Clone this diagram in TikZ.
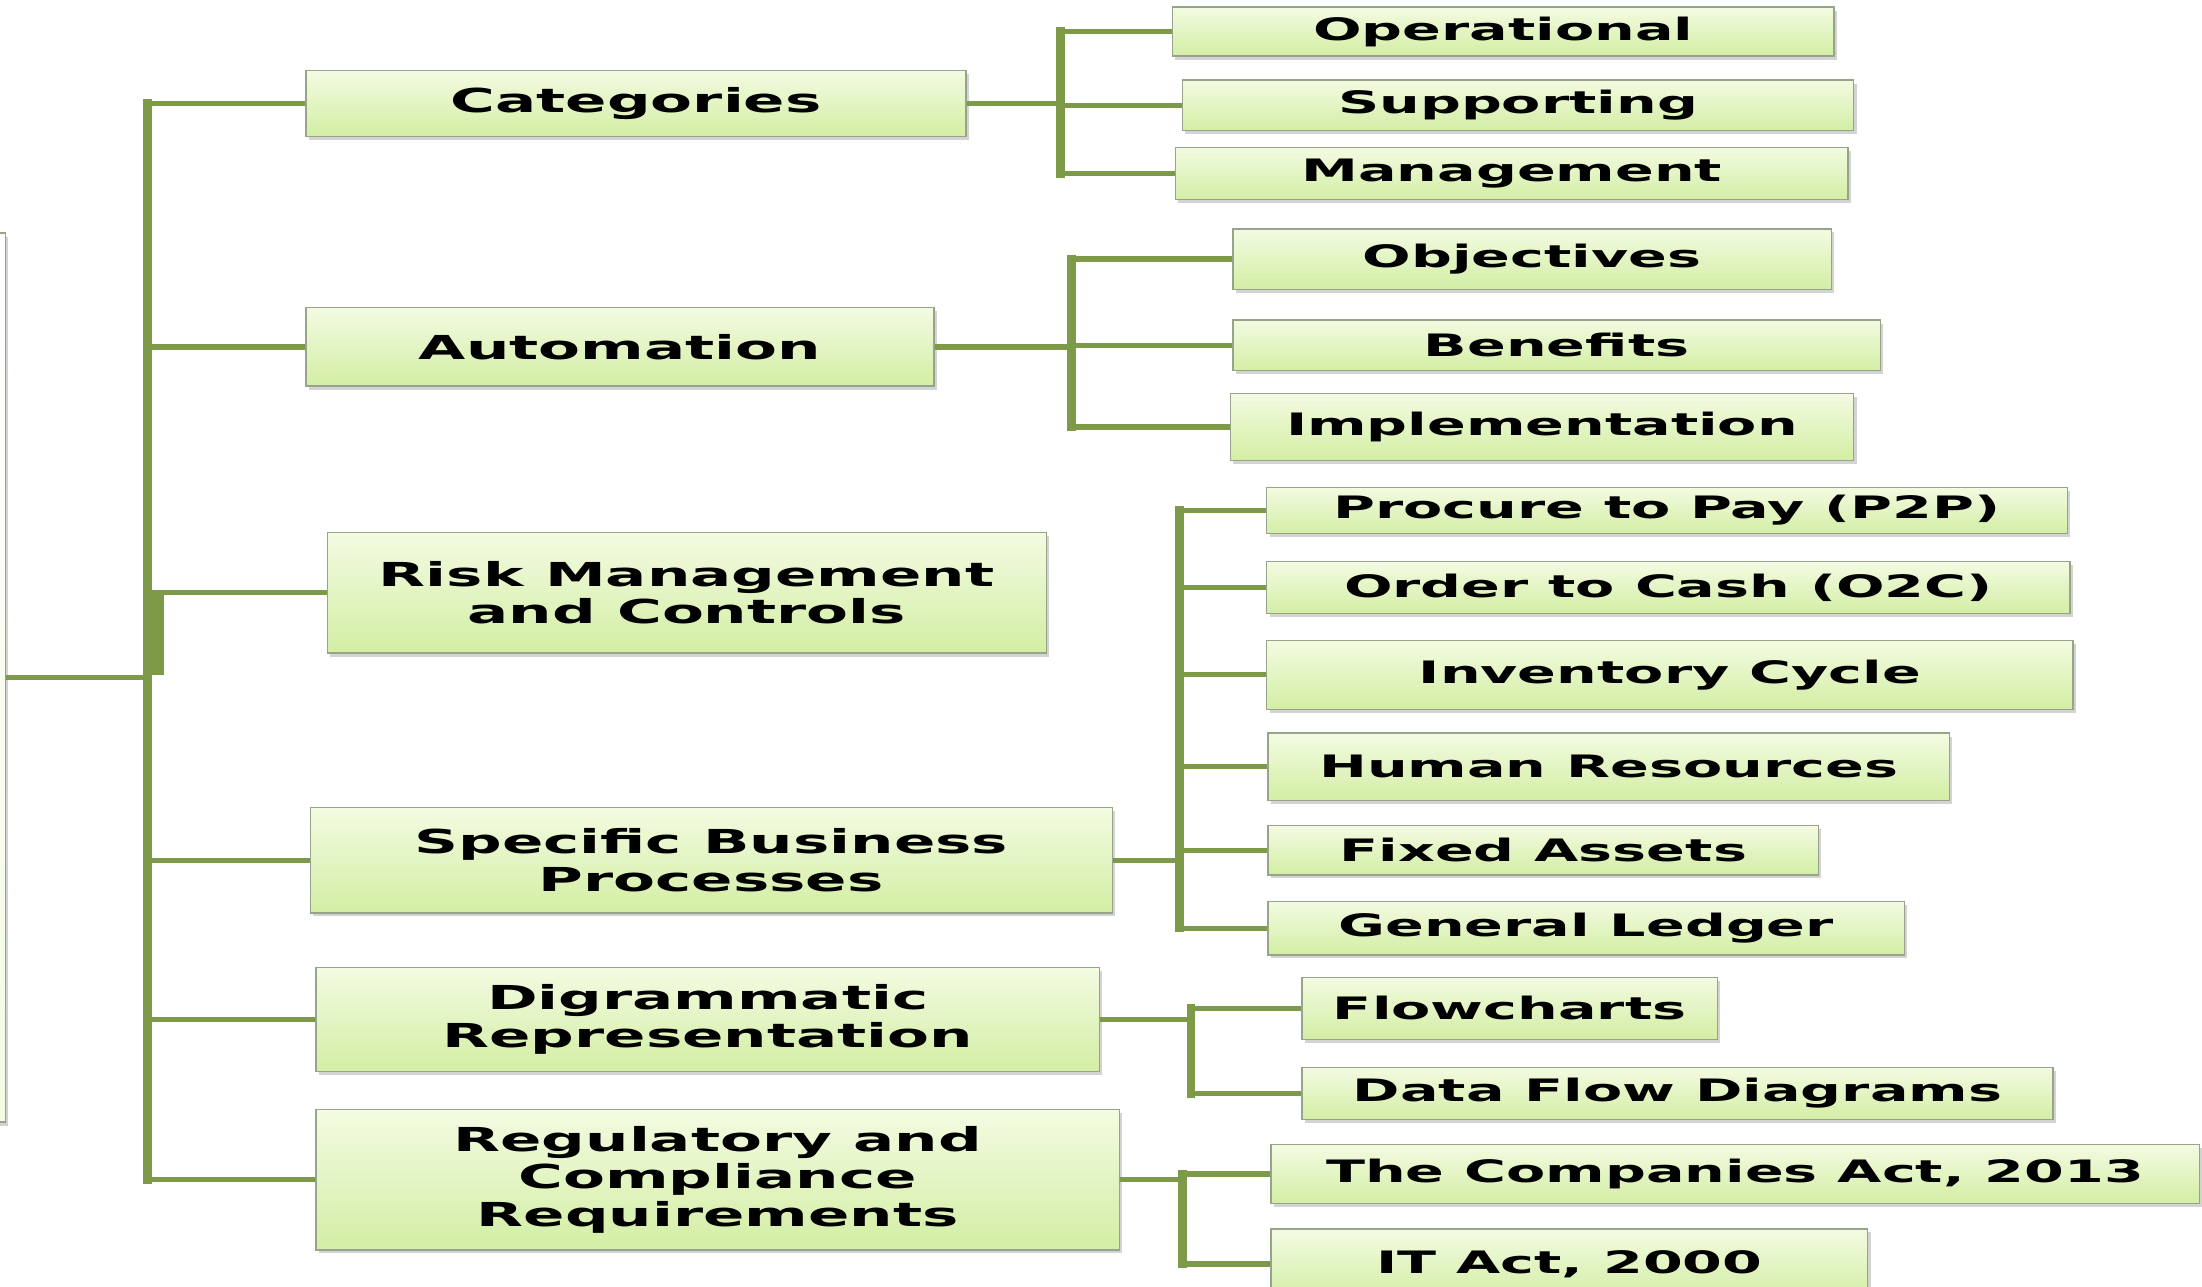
\documentclass[tikz,border=0pt]{standalone}
\usepackage{fontspec}
\usepackage{tikz}
\usetikzlibrary{positioning,shadows}
\newfontfamily\boxfont[FakeStretch=1.85]{DejaVu Sans Bold}
\definecolor{branchgreen}{HTML}{7D9A48}
\definecolor{leaftop}{HTML}{F3FBE2}
\definecolor{leafbot}{HTML}{D3EEA4}
\definecolor{rim}{HTML}{97A38A}

\tikzset{
        leaf/.style={draw=rim, line width=1pt, top color=leaftop, bottom color=leafbot,
                drop shadow={shadow xshift=2pt, shadow yshift=-2.5pt, opacity=0.35},
                inner sep=0pt, align=center, font=\boxfont\fontsize{22}{26.5}\selectfont},
        limb/.style={leaf, font=\boxfont\fontsize{23.5}{26.8}\selectfont},
        twig/.style={draw=branchgreen, line width=3.8pt},
        stem/.style={draw=branchgreen, line width=6pt, line cap=rect},
}

\begin{document}
\begin{tikzpicture}[x=1pt,y=1pt]
        \useasboundingbox (0,0) rectangle (1568,-916);
        \clip (0,0) rectangle (1568,-916);

        \node[leaf, minimum width=48pt, minimum height=633pt, top color=white, bottom color=leaftop] (root) at (-20,-482.5) {};

        \node[limb, minimum width=470pt, minimum height=47pt] (cat) at (453,-73.5) {Categories};
        \node[limb, minimum width=447pt, minimum height=56pt] (auto) at (441.5,-247) {Automation};
        \node[limb, minimum width=512pt, minimum height=86pt] (risk) at (489,-422) {Risk Management\\and Controls};
        \node[limb, minimum width=571pt, minimum height=75pt] (spec) at (506.5,-612.5) {Specific Business\\Processes};
        \node[limb, minimum width=558pt, minimum height=74pt] (dia) at (504,-726) {Digrammatic\\Representation};
        \node[limb, minimum width=572pt, minimum height=100pt] (reg) at (511,-840) {Regulatory and\\Compliance\\Requirements};

        \node[leaf, minimum width=471pt, minimum height=35pt] (op) at (1070.5,-22.5) {Operational};
        \node[leaf, minimum width=478pt, minimum height=36pt] (sup) at (1081,-75) {Supporting};
        \node[leaf, minimum width=479pt, minimum height=37pt] (mg) at (1076.5,-123.5) {Management};

        \node[leaf, minimum width=426pt, minimum height=43pt] (obj) at (1091,-184.5) {Objectives};
        \node[leaf, minimum width=461pt, minimum height=36pt] (ben) at (1108.5,-246) {Benefits};
        \node[leaf, minimum width=444pt, minimum height=48pt] (impl) at (1098,-304) {Implementation};

        \node[leaf, minimum width=570pt, minimum height=33pt] (p2p) at (1187,-363.5) {Procure to Pay (P2P)};
        \node[leaf, minimum width=572pt, minimum height=37pt] (o2c) at (1188,-418.5) {Order to Cash (O2C)};
        \node[leaf, minimum width=574pt, minimum height=49pt] (inv) at (1189,-480.5) {Inventory Cycle};
        \node[leaf, minimum width=485pt, minimum height=48pt] (hr) at (1145.5,-546) {Human Resources};
        \node[leaf, minimum width=392pt, minimum height=35pt] (fa) at (1099,-605.5) {Fixed Assets};
        \node[leaf, minimum width=453pt, minimum height=38pt] (gl) at (1129.5,-661) {General Ledger};

        \node[leaf, minimum width=296pt, minimum height=44pt] (fc) at (1075,-718) {Flowcharts};
        \node[leaf, minimum width=535pt, minimum height=37pt] (dfd) at (1194.5,-778.5) {Data Flow Diagrams};

        \node[leaf, minimum width=661pt, minimum height=42pt] (comp) at (1235.5,-836) {The Companies Act, 2013};
        \node[leaf, minimum width=425pt, minimum height=50pt] (it) at (1117.5,-900) {IT Act, 2000};

        \coordinate (tr) at (105,-481);
        \coordinate (jc) at (755,-73);
        \coordinate (ja) at (763,-246);
        \coordinate (js) at (840,-612);
        \coordinate (jd) at (848,-726);
        \coordinate (jr) at (842,-838);

        \draw[twig] (root.east) -- (root.east -| tr);
        \draw[stem] (tr |- cat.west) -- (tr |- reg.west);
        \draw[stem, line width=13pt, line cap=butt] ([xshift=5pt]tr |- risk.west) -- ([xshift=5pt]tr);
        \foreach \n in {cat,auto,risk,spec,dia,reg}
                \draw[twig] (tr |- \n.west) -- (\n.west);

        \draw[twig] (cat.east) -- (cat.east -| jc);
        \draw[stem] (jc |- op.west) -- (jc |- mg.west);
        \foreach \n in {op,sup,mg}
                \draw[twig] (jc |- \n.west) -- (\n.west);

        \draw[twig] (auto.east) -- (auto.east -| ja);
        \draw[stem] (ja |- obj.west) -- (ja |- impl.west);
        \foreach \n in {obj,ben,impl}
                \draw[twig] (ja |- \n.west) -- (\n.west);

        \draw[twig] (spec.east) -- (spec.east -| js);
        \draw[stem] (js |- p2p.west) -- (js |- gl.west);
        \foreach \n in {p2p,o2c,inv,hr,fa,gl}
                \draw[twig] (js |- \n.west) -- (\n.west);

        \draw[twig] (dia.east) -- (dia.east -| jd);
        \draw[stem] (jd |- fc.west) -- (jd |- dfd.west);
        \foreach \n in {fc,dfd}
                \draw[twig] (jd |- \n.west) -- (\n.west);

        \draw[twig] (reg.east) -- (reg.east -| jr);
        \draw[stem] (jr |- comp.west) -- (jr |- it.west);
        \foreach \n in {comp,it}
                \draw[twig] (jr |- \n.west) -- (\n.west);
\end{tikzpicture}
\end{document}
